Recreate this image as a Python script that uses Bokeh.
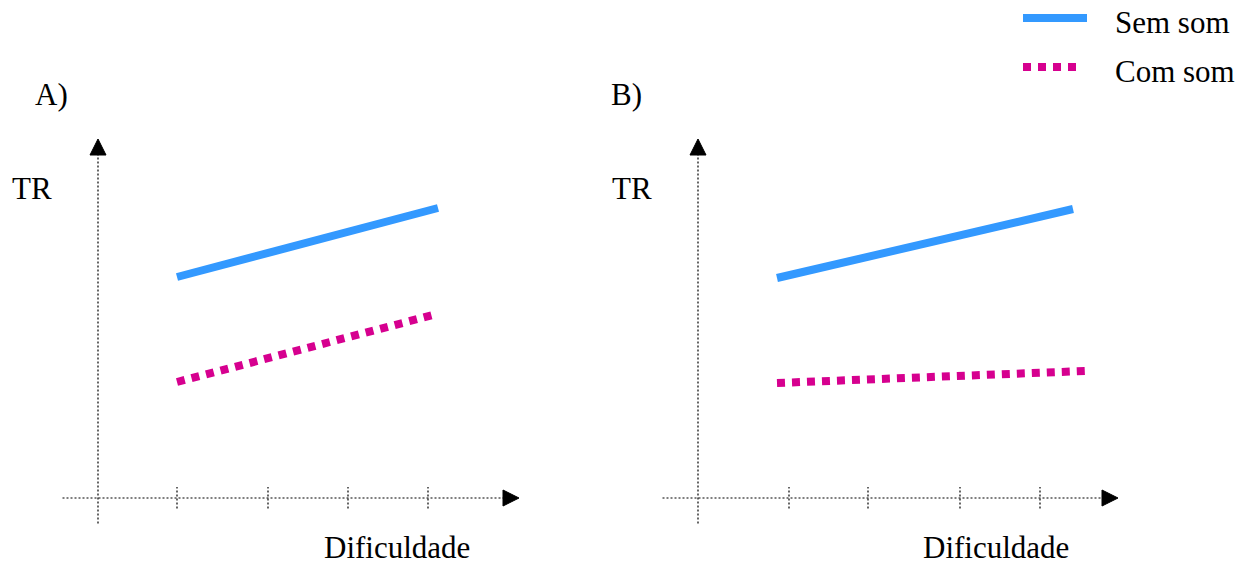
from bokeh.plotting import figure
from bokeh.models import Range1d, Arrow, NormalHead
from bokeh.layouts import row
from bokeh.core.properties import value
from bokeh.embed import file_html
from bokeh.resources import INLINE

# ---- data (schematic units: difficulty on x, TR on y) ----
panel_labels = ["A)", "B)"]
y_label = "TR"
x_label = "Dificuldade"
series_names = ["Sem som", "Com som"]

# Panel A
a_ticks = [0.79, 1.70, 2.50, 3.30]
a_sem_x = [0.79, 3.40]
a_sem_y = [2.21, 2.90]
a_com_x = [0.79, 3.35]
a_com_y = [1.16, 1.83]

# Panel B
b_ticks = [0.91, 1.70, 2.62, 3.42]
b_sem_x = [0.79, 3.75]
b_sem_y = [2.20, 2.89]
b_com_x = [0.79, 3.87]
b_com_y = [1.15, 1.27]

BLUE = "#3399ff"
PINK = "#d6008f"
FONT = value("Liberation Serif")
FS = "31px"
H = 567
TB = 0.11  # baseline compensation
DOT = "2 2"
DW = 1.2


def make_panel(width, label, label_x, ticks, sx, sy, cx, cy, x_axis_end, xlabel_x):
    p = figure(width=width, height=H, output_backend="svg", toolbar_location=None,
               x_range=Range1d(-0.975, -0.975 + width / 100.0),
               y_range=Range1d(4.975 - H / 100.0, 4.975),
               x_axis_location=None, y_axis_location=None,
               min_border=0, min_border_left=0, min_border_right=0,
               min_border_top=0, min_border_bottom=0)
    p.outline_line_color = None
    p.grid.visible = False
    p.background_fill_color = "white"
    p.border_fill_color = "white"

    # axes (dotted) with arrow heads
    p.add_layout(Arrow(end=NormalHead(size=16, fill_color="black", line_color="black", line_width=1),
                       x_start=0, y_start=-0.255, x_end=0, y_end=3.59,
                       line_color="black", line_width=DW, line_dash=DOT))
    p.add_layout(Arrow(end=NormalHead(size=16, fill_color="black", line_color="black", line_width=1),
                       x_start=-0.355, y_start=0, x_end=x_axis_end, y_end=0,
                       line_color="black", line_width=DW, line_dash=DOT))
    # tick marks
    p.segment(x0=ticks, y0=[-0.105] * len(ticks), x1=ticks, y1=[0.11] * len(ticks),
              line_color="black", line_width=DW, line_dash=DOT)

    # series
    p.line(sx, sy, line_color=BLUE, line_width=8, line_cap="butt")
    p.line(cx, cy, line_color=PINK, line_width=8, line_dash="8 7", line_cap="butt")

    # texts
    p.text(x=[label_x], y=[3.93 + TB], text=[label],
           text_font=FONT, text_font_size=FS, text_color="black", text_baseline="alphabetic")
    p.text(x=[-0.86], y=[2.99 + TB], text=[y_label],
           text_font=FONT, text_font_size=FS, text_color="black", text_baseline="alphabetic")
    p.text(x=[xlabel_x], y=[-0.60 + TB], text=[x_label],
           text_font=FONT, text_font_size=FS, text_color="black", text_baseline="alphabetic")
    return p


pa = make_panel(600, panel_labels[0], -0.63, a_ticks, a_sem_x, a_sem_y, a_com_x, a_com_y, 4.21, 2.26)
pb = make_panel(654, panel_labels[1], -0.87, b_ticks, b_sem_x, b_sem_y, b_com_x, b_com_y, 4.20, 2.25)

# legend (drawn in panel B's space)
pb.line([3.25, 3.89], [4.80, 4.80], line_color=BLUE, line_width=8, line_cap="butt")
pb.line([3.25, 3.83], [4.31, 4.31], line_color=PINK, line_width=8, line_dash="8 7", line_cap="butt")
pb.text(x=[4.17, 4.17], y=[4.65 + TB, 4.16 + TB], text=series_names,
        text_font=FONT, text_font_size=FS, text_color="black", text_baseline="alphabetic")

layout = row(pa, pb, spacing=0)
open("out.html", "w").write(file_html(layout, INLINE))
